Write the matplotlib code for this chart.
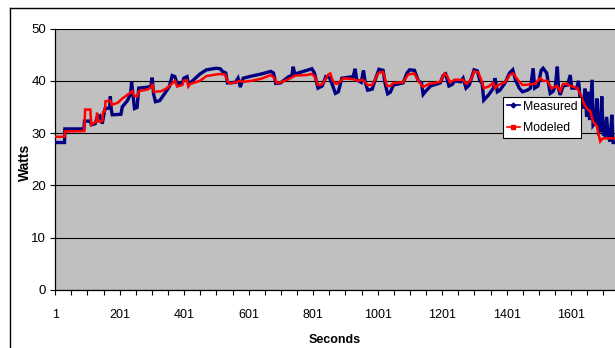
import matplotlib
matplotlib.use("Agg")
import matplotlib.pyplot as plt
from matplotlib.lines import Line2D
from matplotlib.ticker import FixedLocator, FuncFormatter

plt.rcParams['font.family'] = ['Liberation Sans', 'DejaVu Sans']

# ---- data ----
meas_t = [1, 30, 31, 90, 92, 110, 113, 125, 131, 140, 147, 152, 156, 170, 172, 175, 178, 205, 209, 225,
          235, 238, 242, 247, 255, 260, 290, 298, 302, 306, 312, 325, 340, 355, 364, 372, 379, 395, 400, 410,
          414, 420, 450, 470, 500, 513, 520, 530, 535, 560, 568, 575, 584, 610, 640, 670, 678, 685, 700, 725,
          735, 739, 744, 770, 797, 805, 816, 829, 840, 852, 862, 870, 879, 890, 925, 931, 936, 950, 957, 962,
          970, 984, 995, 1005, 1018, 1024, 1032, 1040, 1050, 1080, 1092, 1100, 1115, 1127, 1137, 1142, 1150, 1165, 1195, 1204,
          1212, 1222, 1232, 1240, 1258, 1266, 1275, 1285, 1300, 1310, 1318, 1325, 1330, 1345, 1360, 1365, 1372, 1380, 1395, 1410,
          1420, 1428, 1440, 1450, 1465, 1475, 1483, 1488, 1498, 1508, 1514, 1525, 1536, 1545, 1552, 1558, 1562, 1567, 1576, 1590,
          1598, 1603, 1618, 1624, 1629, 1638, 1644, 1649, 1653, 1658, 1666, 1669, 1675, 1681, 1686, 1691, 1696, 1700, 1705, 1711,
          1716, 1722, 1727, 1731, 1740]
meas_w = [28.2, 28.2, 30.8, 30.8, 32.3, 32.3, 31.6, 31.8, 33.0, 33.3, 31.8, 33.5, 34.7, 34.8, 37.0, 34.5, 33.5, 33.6, 35.0, 36.2,
          37.5, 39.7, 37.5, 34.7, 34.9, 38.6, 38.8, 39.0, 40.6, 37.5, 36.0, 36.2, 37.5, 38.9, 41.0, 40.8, 39.5, 39.5, 40.5, 40.8,
          39.5, 39.6, 41.3, 42.1, 42.4, 42.3, 41.8, 41.5, 39.6, 39.7, 40.5, 38.8, 40.5, 40.9, 41.3, 41.8, 41.5, 39.5, 39.6, 40.8,
          41.0, 42.7, 41.3, 41.8, 42.3, 41.5, 38.6, 39.0, 40.8, 40.6, 39.0, 37.6, 37.9, 40.5, 40.8, 42.3, 40.2, 39.7, 42.0, 39.8,
          38.2, 38.4, 40.5, 42.2, 42.0, 39.5, 37.5, 37.8, 39.2, 39.6, 41.5, 42.1, 42.0, 40.0, 39.6, 37.4, 38.0, 39.0, 39.6, 41.0,
          41.3, 39.0, 39.3, 40.0, 39.8, 40.5, 38.6, 39.2, 42.1, 41.9, 40.0, 39.5, 36.3, 37.3, 38.6, 40.5, 37.9, 38.2, 39.5, 41.5,
          42.1, 40.2, 38.6, 37.9, 38.2, 38.6, 42.4, 38.6, 39.0, 42.0, 42.4, 41.5, 37.6, 38.0, 39.0, 42.7, 38.5, 37.3, 39.0, 39.2,
          41.1, 38.6, 38.6, 40.0, 36.5, 34.7, 38.5, 33.1, 37.9, 32.5, 40.2, 31.5, 32.0, 36.6, 30.2, 30.5, 37.0, 29.8, 29.6, 33.1,
          29.2, 28.4, 33.5, 28.2, 28.2]

model_t = [1, 30, 31, 91, 94, 110, 113, 128, 131, 134, 147, 150, 155, 157, 172, 176, 195, 209, 229, 240,
           245, 255, 260, 290, 300, 303, 307, 330, 345, 360, 373, 379, 395, 400, 410, 414, 420, 450, 470, 510,
           528, 536, 545, 560, 575, 584, 610, 640, 670, 678, 688, 700, 725, 745, 780, 797, 806, 816, 829, 848,
           854, 862, 872, 880, 895, 925, 940, 955, 970, 984, 1003, 1018, 1030, 1040, 1050, 1080, 1095, 1115, 1127, 1142,
           1160, 1195, 1208, 1216, 1225, 1240, 1266, 1276, 1290, 1300, 1313, 1322, 1330, 1345, 1359, 1366, 1375, 1395, 1412, 1422,
           1435, 1450, 1474, 1490, 1505, 1514, 1527, 1540, 1558, 1567, 1576, 1589, 1600, 1620, 1629, 1638, 1649, 1660, 1669, 1681,
           1691, 1699, 1714, 1740]
model_w = [29.3, 29.3, 30.3, 30.4, 34.5, 34.5, 31.6, 32.2, 33.9, 32.2, 32.3, 34.0, 34.1, 36.1, 36.2, 35.4, 35.8, 36.6, 37.5, 38.0,
           37.2, 37.0, 38.0, 38.4, 38.9, 39.4, 37.9, 38.0, 38.5, 39.3, 40.0, 38.9, 39.2, 40.0, 40.1, 38.9, 39.4, 40.0, 40.9, 41.3,
           41.2, 39.8, 39.5, 39.7, 40.0, 39.8, 40.0, 40.4, 41.1, 40.7, 39.6, 39.7, 40.3, 41.0, 41.1, 41.3, 40.8, 39.2, 39.3, 41.2,
           41.4, 40.0, 39.4, 39.6, 40.5, 40.3, 40.0, 40.2, 39.2, 39.2, 41.5, 41.7, 39.0, 39.0, 39.6, 39.7, 41.2, 41.4, 40.0, 38.8,
           39.4, 39.8, 41.4, 41.0, 39.7, 40.2, 40.2, 39.4, 40.2, 41.8, 41.6, 40.2, 38.6, 38.9, 39.6, 38.6, 39.2, 39.7, 41.2, 41.4,
           40.2, 39.2, 39.3, 39.5, 40.5, 40.0, 40.0, 38.6, 39.0, 38.0, 39.4, 39.4, 39.0, 38.6, 37.6, 36.0, 34.7, 34.2, 32.2, 31.3,
           28.4, 29.0, 29.0, 29.0]

series_names = ["Measured", "Modeled"]
x_tick_labels = [1, 201, 401, 601, 801, 1001, 1201, 1401, 1601]
y_ticks = [0, 10, 20, 30, 40, 50]

# ---- figure ----
W, H = 615, 348
fig = plt.figure(figsize=(W / 100, H / 100), dpi=100)
fig.patch.set_facecolor('white')

px_l, px_r, px_t, px_b = 55, 625, 28.5, 290
ax = fig.add_axes([px_l / W, 1 - px_b / H, (px_r - px_l) / W, (px_b - px_t) / H])
ax.set_facecolor('#C0C0C0')

ax.plot(meas_t, meas_w, color='#000080', lw=2.4, solid_joinstyle='miter', zorder=3)
ax.plot(model_t, model_w, color='#FF0000', lw=1.8, solid_joinstyle='miter', zorder=4)

ax.set_xlim(0.5, 0.5 + (px_r - px_l) / 0.3225)
ax.set_ylim(0, 50)

ax.yaxis.set_major_locator(FixedLocator(y_ticks))
ax.grid(axis='y', color='black', lw=0.8, zorder=1)
ax.set_axisbelow(True)

major = list(range(1, 1752, 50))
ax.xaxis.set_major_locator(FixedLocator(major))
ax.xaxis.set_major_formatter(FuncFormatter(lambda v, p: str(int(round(v))) if int(round(v)) in x_tick_labels else ''))

for s in ['top', 'right']:
    ax.spines[s].set_visible(False)
for s in ['left', 'bottom']:
    ax.spines[s].set_color('black')
    ax.spines[s].set_linewidth(0.9)

ax.tick_params(axis='x', direction='out', length=3.5, width=0.8, pad=10, labelsize=9)
ax.tick_params(axis='y', direction='out', length=3.5, width=0.8, pad=3, labelsize=9.5)

fig.text(25 / W, 1 - 162 / H, 'Watts', rotation=90, ha='center', va='center',
         fontsize=10, fontweight='bold')
fig.text(335 / W, 1 - 340 / H, 'Seconds', ha='center', va='center',
         fontsize=9, fontweight='bold')

handles = [Line2D([0], [0], color='#000080', lw=1.2, marker='D', markersize=2.5),
           Line2D([0], [0], color='#FF0000', lw=1.2, marker='s', markersize=2.5)]
leg = fig.legend(handles, series_names, loc='upper left',
                 bbox_to_anchor=(503 / W, 1 - 97 / H), fontsize=8.8,
                 handlelength=1.1, handletextpad=0.2, labelspacing=0.8,
                 borderpad=0.3, borderaxespad=0, handleheight=0.7, fancybox=False, framealpha=1,
                 edgecolor='black', facecolor='white')
leg.get_frame().set_linewidth(0.8)

# outer chart-area border
fig.add_artist(Line2D([10 / W, 1.0], [1 - 8 / H, 1 - 8 / H], color='black', lw=1.0, transform=fig.transFigure))
fig.add_artist(Line2D([10 / W, 10 / W], [1 - 8 / H, 0.0], color='black', lw=1.0, transform=fig.transFigure))

fig.savefig('out.png', dpi=100)
